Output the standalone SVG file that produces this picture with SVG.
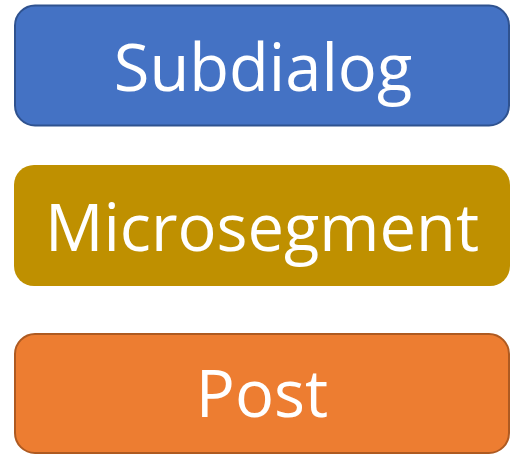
<svg xmlns="http://www.w3.org/2000/svg" width="513" height="455" viewBox="0 0 513 455">
<style>
.lbl{font-family:"Open Sans","Noto Sans",sans-serif;font-size:65px;fill:#fff;text-anchor:middle}
</style>
<rect width="513" height="455" fill="#fff"/>
<g id="subdialog">
<rect x="15" y="5.5" width="494" height="120" rx="20" fill="#4472C4" stroke="#2F528F" stroke-width="2"/>
<text class="lbl" x="263" y="91">Subdialog</text>
</g>
<g id="microsegment">
<rect x="14" y="165" width="496" height="121" rx="20" fill="#BF9000"/>
<text class="lbl" x="262" y="251">Microsegment</text>
</g>
<g id="post">
<rect x="15" y="334" width="494" height="119" rx="20" fill="#ED7D31" stroke="#AE5A21" stroke-width="2"/>
<text class="lbl" x="262" y="417">Post</text>
</g>
<g id="connectors"/>
</svg>
